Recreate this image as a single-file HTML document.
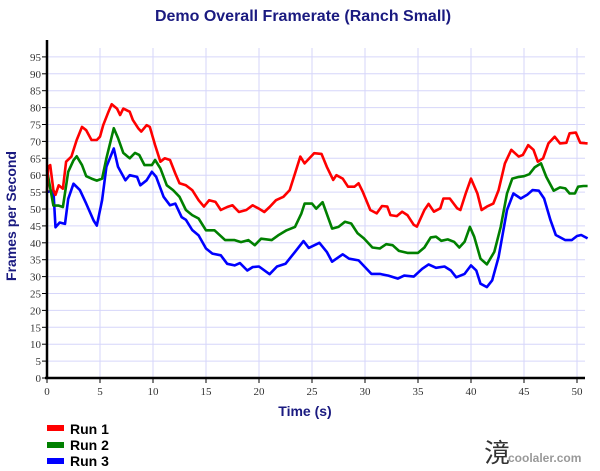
<!DOCTYPE html>
<html><head><meta charset="utf-8"><style>
body{margin:0;background:#fff;width:600px;height:471px;overflow:hidden}
svg{display:block}
</style></head><body>
<svg id="chart" width="600" height="471" xmlns="http://www.w3.org/2000/svg">
<text x="303" y="21" text-anchor="middle" font-family="Liberation Sans, sans-serif" font-weight="bold" font-size="16" fill="#1a1a80">Demo Overall Framerate (Ranch Small)</text>
<g id="grid"></g>
<g id="series"></g>
<g id="axes"></g>
<text transform="translate(16,216) rotate(-90)" text-anchor="middle" font-family="Liberation Sans, sans-serif" font-weight="bold" font-size="14" fill="#1a1a80">Frames per Second</text>
<text x="305" y="416" text-anchor="middle" font-family="Liberation Sans, sans-serif" font-weight="bold" font-size="14" fill="#1a1a80">Time (s)</text>
<g font-family="Liberation Sans, sans-serif" font-weight="bold" font-size="14" fill="#000">
<g><rect x="47" y="425" width="17" height="6" fill="#ff0000"/><text x="70" y="434">Run 1</text></g>
<g><rect x="47" y="442" width="17" height="6" fill="#008000"/><text x="70" y="450">Run 2</text></g>
<g><rect x="47" y="458" width="17" height="6" fill="#0000ff"/><text x="70" y="466">Run 3</text></g>
</g>
<text x="484" y="462" font-family="Liberation Serif, serif" font-size="26" fill="#333">滰</text>
<text x="508" y="462" font-family="Liberation Sans, sans-serif" font-weight="bold" font-size="12" fill="#999">coolaler.com</text>
</svg>
<script>
const xTicks=[0,5,10,15,20,25,30,35,40,45,50];
const yTicks=[0,5,10,15,20,25,30,35,40,45,50,55,60,65,70,75,80,85,90,95];
const run1Times=[0,0.1,0.3,0.6,0.8,1.1,1.5,1.8,2.3,2.8,3.3,3.7,4.2,4.7,5,5.3,5.8,6.1,6.6,6.9,7.2,7.8,8.1,8.6,8.9,9.4,9.7,10.2,10.7,11.1,11.6,12.1,12.5,13.1,13.7,14.3,14.8,15.3,15.9,16.4,17,17.5,18.1,18.8,19.4,20,20.5,21,21.6,22.3,22.9,23.4,23.9,24.3,25.2,25.9,26.4,27,27.3,27.9,28.4,29,29.4,29.8,30.5,31.1,31.6,32.1,32.4,33,33.5,34,34.6,34.9,35.6,36,36.5,37.1,37.4,38,38.7,39,39.5,40,40.6,41,41.5,42.1,42.6,43.2,43.8,44.5,44.9,45.4,45.9,46.3,46.8,47.3,47.9,48.4,49,49.3,49.9,50.3,51];
const run1Values=[55,62.5,63,55.6,54.2,57,56,64,65.5,70.4,74.3,73.3,70.4,70.4,71.4,74.8,78.8,81,79.7,77.8,79.7,78.8,76.3,73.9,72.9,74.8,74.3,68.9,64,65,64.5,60.5,57.6,57,55.6,52.6,50.7,52.6,52.1,49.7,50.6,51.1,49.1,49.7,51.1,50.1,49.1,50.6,52.6,53.6,55.6,60.5,65.5,63.5,66.5,66.3,62.5,58.6,60,59,56.6,56.6,57.6,55,49.7,48.7,50.9,50.7,48.2,47.9,49.2,48.2,45.3,44.8,49.7,51.5,49.2,50.2,53.1,53.1,50.2,49.7,54.6,59,54.6,49.7,50.7,51.6,55.6,63.5,67.5,65.5,66,68.9,67.5,64,65,69.4,71.4,69.4,69.6,72.4,72.6,69.6,69.4];
const run2Times=[0,0.6,1.1,1.5,2,2.5,2.8,3.3,3.7,4.2,4.7,5.2,5.6,6.3,6.7,7.2,7.8,8.3,8.7,9.2,9.9,10.2,10.7,11.3,11.9,12.5,13.1,13.7,14.3,15,15.8,16.8,17.7,18.3,19,19.6,20.2,21.2,21.8,22.6,23.4,24,24.3,25,25.4,26,26.9,27.5,28.1,28.7,29.3,29.9,30.7,31.4,32,32.6,33.2,34,35,35.6,36.2,36.7,37.2,37.8,38.4,38.9,39.4,39.9,40.3,40.9,41.5,42.2,42.8,43.4,43.9,44.5,45,45.5,46,46.6,47.1,47.8,48.4,48.9,49.3,49.8,50.1,50.6,51];
const run2Values=[61.5,51,51,50.6,61,64.4,65.6,63,59.7,59,58.4,59,65,73.9,71,66.6,65,66.6,66,63,63,64.5,62,57,55.6,53.6,49.7,48.2,47.2,43.7,43.7,40.8,40.8,40.2,40.8,39.3,41.2,40.8,42.2,43.7,44.7,48.7,51.6,51.6,50.1,52,44.2,44.7,46.2,45.7,42.8,41.3,38.6,38.3,39.6,39.3,37.6,37,37,38.6,41.6,41.8,40.6,41,40.3,38.6,40.3,44.7,41.8,35.3,33.6,37.3,44.7,54.6,59,59.5,59.7,60.3,62.3,63.5,59.5,55.4,56.4,56.1,54.6,54.6,56.6,56.8,56.8];
const run3Times=[0,0.6,0.8,1.2,1.7,2,2.5,3.1,3.7,4.4,4.7,5.2,5.6,6.3,6.7,7.4,7.8,8.5,8.8,9.4,9.9,10.3,11,11.6,12.1,12.7,13.1,13.7,14.3,15,15.6,16.4,17,17.7,18.2,18.9,19.4,20,21,21.7,22.5,23.4,24.2,24.7,25.7,26.4,26.9,27.9,28.5,29.4,30,30.6,31.4,32.2,33.1,33.7,34.6,35.4,36,36.7,37.5,38.1,38.6,39.4,40,40.5,40.9,41.5,42,42.6,43.4,44,44.7,45.3,45.8,46.4,46.9,47.5,48,48.9,49.5,50,50.4,51];
const run3Values=[55,55.5,44.6,46,45.6,53,57.5,55.6,51.6,46.6,45.1,52.6,62.5,67.9,62.5,58.5,60,59.5,57,58.5,61,59.5,53.6,51.1,51.6,47.6,46.8,43.8,42.2,38.3,36.8,36.3,33.8,33.3,34,31.8,32.8,33,30.7,33,33.8,37.3,40.5,38.5,40,37.3,34.4,36.6,35.3,34.8,32.8,30.8,30.8,30.3,29.4,30.3,30,32.3,33.6,32.6,33,31.8,29.8,30.8,33.3,31.8,27.9,26.9,28.9,35.8,49.7,54.6,53.1,54.2,55.6,55.4,53.1,46.7,42.3,40.8,40.8,42,42.3,41.3];

const NS='http://www.w3.org/2000/svg';
const X0=47,X1=585,Y0=378,YT=48;
function xScale(t){return 47+t*10.6;}
function yScale(v){return 378-v*3.38;}
function mk(tag,attrs,parent){const e=document.createElementNS(NS,tag);for(const k in attrs)e.setAttribute(k,attrs[k]);parent.appendChild(e);return e;}
const grid=document.getElementById('grid'),axes=document.getElementById('axes'),ser=document.getElementById('series');
for(let i=0;i<=10;i++){const t=i*5;const l=mk('line',{x1:xScale(t),x2:xScale(t),y1:YT,y2:Y0,stroke:'#d6d6fa','stroke-width':1},grid);

}
yTicks.forEach(v=>{if(v===0)return;const l=mk('line',{x1:X0,x2:X1,y1:yScale(v),y2:yScale(v),stroke:'#d6d6fa','stroke-width':1},grid);

});
const ya=mk('line',{x1:X0,x2:X0,y1:40,y2:Y0+1,stroke:'#000','stroke-width':2.5},axes);


const xa=mk('line',{x1:X0-2,x2:X1,y1:Y0,y2:Y0,stroke:'#000','stroke-width':2.5},axes);


yTicks.forEach(v=>{const y=yScale(v);
const tk=mk('line',{x1:X0-5,x2:X0,y1:y,y2:y,stroke:'#000','stroke-width':1},axes);


const tx=mk('text',{x:X0-6,y:y+4,'text-anchor':'end','font-family':'Liberation Serif, serif','font-size':11,fill:'#333'},axes);
tx.textContent=v;

});
xTicks.forEach(t=>{const x=xScale(t);
const tk=mk('line',{x1:x,x2:x,y1:Y0,y2:Y0+5,stroke:'#000','stroke-width':1},axes);


const tx=mk('text',{x:x,y:Y0+17,'text-anchor':'middle','font-family':'Liberation Serif, serif','font-size':11,fill:'#333'},axes);
tx.textContent=t;

});
function draw(ts,vs,color,name){const d=ts.map((t,i)=>(i?'L':'M')+xScale(t).toFixed(1)+' '+yScale(vs[i]).toFixed(1)).join(' ');
const p=mk('path',{d:d,fill:'none',stroke:color,'stroke-width':2.6,'stroke-linejoin':'round'},ser);

}
draw(run3Times,run3Values,'#0000ff','run-3-line');
draw(run2Times,run2Values,'#008000','run-2-line');
draw(run1Times,run1Values,'#ff0000','run-1-line');
</script>
</body></html>
